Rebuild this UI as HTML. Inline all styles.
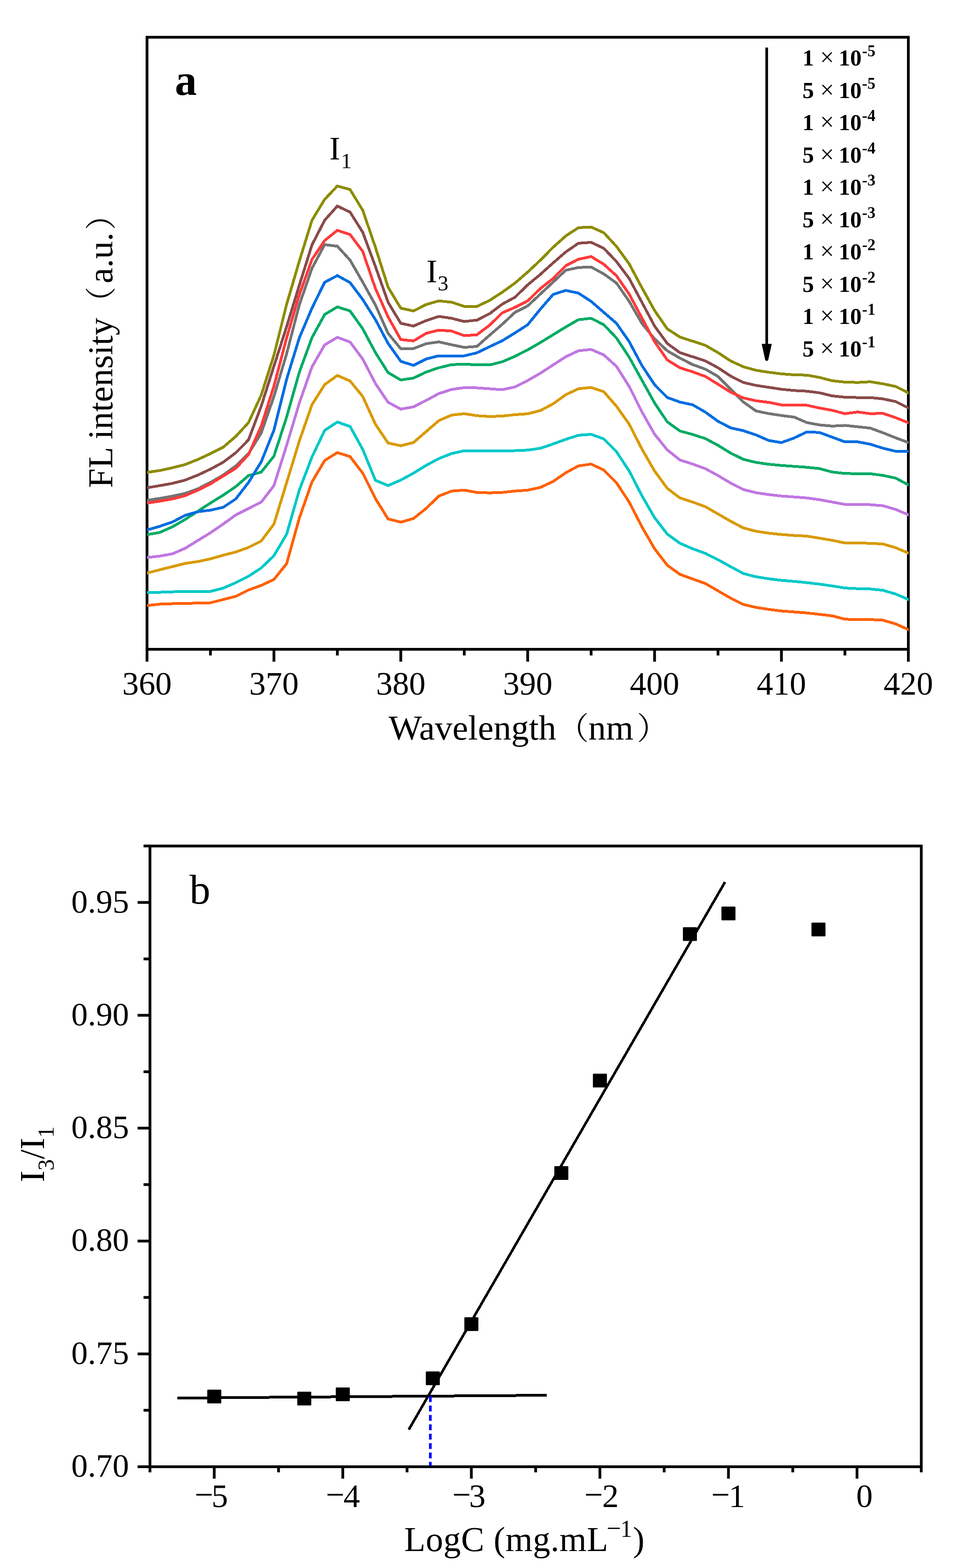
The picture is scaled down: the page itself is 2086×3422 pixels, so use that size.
<!DOCTYPE html>
<html><head><meta charset="utf-8"><title>Figure</title>
<style>html,body{margin:0;padding:0;background:#fff;width:2086px;height:3422px;overflow:hidden}</style>
</head><body>
<svg width="2086" height="3422" viewBox="0 0 2086 3422" style="display:block">
<rect width="2086" height="3422" fill="#fff"/>
<rect x="320.8" y="81.3" width="1661.2" height="1335.7" fill="none" stroke="#000" stroke-width="6"/>
<defs><clipPath id="ca"><rect x="320.8" y="81.3" width="1662.0" height="1335.7"/></clipPath></defs><g clip-path="url(#ca)">
<polyline points="316.8,1321.9 320.8,1321.5 348.5,1318.5 376.2,1317.5 403.9,1317.1 431.5,1316.1 459.2,1315.5 486.9,1308.5 514.6,1301.5 542.3,1287.6 570.0,1277.6 597.7,1264.6 625.4,1230.2 653.0,1131.3 680.7,1051.8 708.4,1005.0 736.1,987.7 763.8,996.4 791.5,1032.7 819.2,1088.1 846.8,1132.6 874.5,1139.6 902.2,1131.6 929.9,1109.6 957.6,1082.6 985.3,1071.7 1013.0,1069.7 1040.7,1074.7 1068.3,1075.7 1096.0,1074.7 1123.7,1071.7 1151.4,1069.7 1179.1,1063.8 1206.8,1050.8 1234.5,1031.8 1262.1,1016.8 1289.8,1012.8 1317.5,1025.8 1345.2,1053.8 1372.9,1095.7 1400.6,1149.6 1428.3,1197.6 1456.0,1233.5 1483.6,1253.5 1511.3,1263.5 1539.0,1273.5 1566.7,1289.5 1594.4,1305.4 1622.1,1319.2 1649.8,1325.6 1677.4,1329.9 1705.1,1333.4 1732.8,1335.5 1760.5,1337.7 1788.2,1340.8 1815.9,1344.0 1843.6,1351.3 1871.3,1352.1 1898.9,1352.1 1926.6,1353.5 1954.3,1361.6 1982.0,1374.0 1986.0,1375.8" fill="none" stroke="#ff6000" stroke-width="6" stroke-linejoin="miter" stroke-miterlimit="3" shape-rendering="crispEdges"/>
<polyline points="316.8,1292.6 320.8,1292.6 348.5,1292.6 376.2,1291.6 403.9,1290.6 431.5,1290.6 459.2,1290.6 486.9,1283.6 514.6,1271.6 542.3,1257.6 570.0,1239.6 597.7,1212.7 625.4,1166.0 653.0,1070.0 680.7,997.4 708.4,939.3 736.1,921.1 763.8,930.6 791.5,980.8 819.2,1048.3 846.8,1059.7 874.5,1047.7 902.2,1032.7 929.9,1015.7 957.6,1000.8 985.3,989.8 1013.0,983.8 1040.7,983.8 1068.3,983.9 1096.0,983.9 1123.7,983.5 1151.4,982.3 1179.1,978.3 1206.8,968.9 1234.5,958.9 1262.1,949.9 1289.8,947.9 1317.5,957.9 1345.2,985.9 1372.9,1027.8 1400.6,1081.7 1428.3,1129.7 1456.0,1165.6 1483.6,1185.6 1511.3,1197.6 1539.0,1207.6 1566.7,1221.5 1594.4,1236.8 1622.1,1251.7 1649.8,1258.8 1677.4,1263.1 1705.1,1266.6 1732.8,1268.8 1760.5,1271.6 1788.2,1274.8 1815.9,1278.8 1843.6,1283.2 1871.3,1284.7 1898.9,1285.4 1926.6,1288.3 1954.3,1296.4 1982.0,1308.1 1986.0,1309.8" fill="none" stroke="#00c8c8" stroke-width="6" stroke-linejoin="miter" stroke-miterlimit="3" shape-rendering="crispEdges"/>
<polyline points="316.8,1251.6 320.8,1250.6 348.5,1243.6 376.2,1236.6 403.9,1229.6 431.5,1225.6 459.2,1219.7 486.9,1211.7 514.6,1204.7 542.3,1194.7 570.0,1180.7 597.7,1143.8 625.4,1053.5 653.0,962.9 680.7,883.3 708.4,839.4 736.1,819.4 763.8,831.4 791.5,865.3 819.2,925.9 846.8,966.8 874.5,972.8 902.2,965.8 929.9,941.8 957.6,917.9 985.3,905.9 1013.0,902.9 1040.7,907.2 1068.3,909.0 1096.0,908.0 1123.7,905.0 1151.4,903.0 1179.1,896.0 1206.8,881.4 1234.5,861.4 1262.1,848.5 1289.8,845.5 1317.5,855.0 1345.2,886.7 1372.9,925.7 1400.6,979.9 1428.3,1027.8 1456.0,1065.8 1483.6,1086.7 1511.3,1095.7 1539.0,1105.7 1566.7,1121.7 1594.4,1137.6 1622.1,1152.2 1649.8,1159.4 1677.4,1163.6 1705.1,1166.5 1732.8,1168.6 1760.5,1170.0 1788.2,1174.5 1815.9,1179.2 1843.6,1185.0 1871.3,1185.0 1898.9,1185.7 1926.6,1187.2 1954.3,1195.3 1982.0,1207.0 1986.0,1208.7" fill="none" stroke="#d99a00" stroke-width="6" stroke-linejoin="miter" stroke-miterlimit="3" shape-rendering="crispEdges"/>
<polyline points="316.8,1217.1 320.8,1216.7 348.5,1213.7 376.2,1208.7 403.9,1196.7 431.5,1179.7 459.2,1162.7 486.9,1143.8 514.6,1123.8 542.3,1109.8 570.0,1095.8 597.7,1059.9 625.4,972.0 653.0,880.0 680.7,800.7 708.4,752.7 736.1,736.1 763.8,746.5 791.5,783.5 819.2,837.0 846.8,877.9 874.5,892.9 902.2,887.9 929.9,873.9 957.6,858.9 985.3,850.0 1013.0,846.0 1040.7,846.5 1068.3,848.5 1096.0,850.5 1123.7,844.5 1151.4,830.5 1179.1,814.5 1206.8,796.5 1234.5,778.6 1262.1,765.6 1289.8,762.6 1317.5,774.6 1345.2,799.6 1372.9,843.5 1400.6,898.7 1428.3,947.6 1456.0,981.9 1483.6,1003.8 1511.3,1012.8 1539.0,1022.8 1566.7,1037.8 1594.4,1054.3 1622.1,1068.4 1649.8,1075.3 1677.4,1079.4 1705.1,1082.5 1732.8,1084.6 1760.5,1086.7 1788.2,1090.5 1815.9,1095.7 1843.6,1100.8 1871.3,1100.8 1898.9,1101.5 1926.6,1103.7 1954.3,1111.8 1982.0,1123.5 1986.0,1125.2" fill="none" stroke="#c077e0" stroke-width="6" stroke-linejoin="miter" stroke-miterlimit="3" shape-rendering="crispEdges"/>
<polyline points="316.8,1167.4 320.8,1166.7 348.5,1162.1 376.2,1149.7 403.9,1133.8 431.5,1115.8 459.2,1097.8 486.9,1080.8 514.6,1061.9 542.3,1037.9 570.0,1030.3 597.7,995.6 625.4,910.3 653.0,812.7 680.7,737.0 708.4,686.4 736.1,669.8 763.8,678.6 791.5,717.5 819.2,769.5 846.8,813.2 874.5,829.2 902.2,825.2 929.9,811.9 957.6,802.6 985.3,795.9 1013.0,794.6 1040.7,796.4 1068.3,796.5 1096.0,789.5 1123.7,777.6 1151.4,763.6 1179.1,747.6 1206.8,730.6 1234.5,713.6 1262.1,697.7 1289.8,694.7 1317.5,708.7 1345.2,737.6 1372.9,779.6 1400.6,829.5 1428.3,879.5 1456.0,920.7 1483.6,940.6 1511.3,948.1 1539.0,957.1 1566.7,971.9 1594.4,988.9 1622.1,1002.5 1649.8,1009.2 1677.4,1013.2 1705.1,1015.8 1732.8,1017.8 1760.5,1019.8 1788.2,1022.7 1815.9,1030.2 1843.6,1033.2 1871.3,1033.9 1898.9,1033.9 1926.6,1037.5 1954.3,1043.4 1982.0,1058.1 1986.0,1060.2" fill="none" stroke="#00ab65" stroke-width="6" stroke-linejoin="miter" stroke-miterlimit="3" shape-rendering="crispEdges"/>
<polyline points="316.8,1157.9 320.8,1156.7 348.5,1148.7 376.2,1139.2 403.9,1124.8 431.5,1116.8 459.2,1113.4 486.9,1107.2 514.6,1088.8 542.3,1052.9 570.0,1007.9 597.7,939.0 625.4,827.7 653.0,737.6 680.7,672.6 708.4,616.0 736.1,601.5 763.8,616.7 791.5,653.6 819.2,697.6 846.8,749.5 874.5,788.5 902.2,797.4 929.9,783.5 957.6,776.5 985.3,776.5 1013.0,776.5 1040.7,770.0 1068.3,756.6 1096.0,743.6 1123.7,726.6 1151.4,708.7 1179.1,674.7 1206.8,642.7 1234.5,633.8 1262.1,639.7 1289.8,657.7 1317.5,681.7 1345.2,705.7 1372.9,745.6 1400.6,797.6 1428.3,839.5 1456.0,867.5 1483.6,877.5 1511.3,883.4 1539.0,899.4 1566.7,919.4 1594.4,933.8 1622.1,939.9 1649.8,949.3 1677.4,961.3 1705.1,965.9 1732.8,955.9 1760.5,942.6 1788.2,943.9 1815.9,954.1 1843.6,964.3 1871.3,964.3 1898.9,969.4 1926.6,978.2 1954.3,984.8 1982.0,984.8 1986.0,984.8" fill="none" stroke="#006de0" stroke-width="6" stroke-linejoin="miter" stroke-miterlimit="3" shape-rendering="crispEdges"/>
<polyline points="316.8,1092.4 320.8,1091.8 348.5,1087.8 376.2,1082.8 403.9,1076.8 431.5,1066.9 459.2,1052.9 486.9,1036.9 514.6,1016.9 542.3,990.0 570.0,944.9 597.7,865.3 625.4,772.2 653.0,665.7 680.7,585.6 708.4,533.9 736.1,537.3 763.8,567.7 791.5,615.7 819.2,665.6 846.8,727.5 874.5,761.1 902.2,760.7 929.9,750.1 957.6,746.1 985.3,752.4 1013.0,758.1 1040.7,756.0 1068.3,731.6 1096.0,707.7 1123.7,681.7 1151.4,667.7 1179.1,641.7 1206.8,615.8 1234.5,589.8 1262.1,583.8 1289.8,582.8 1317.5,597.8 1345.2,617.8 1372.9,657.7 1400.6,705.7 1428.3,739.6 1456.0,765.6 1483.6,781.6 1511.3,795.6 1539.0,805.6 1566.7,821.5 1594.4,849.5 1622.1,877.4 1649.8,897.0 1677.4,902.6 1705.1,906.8 1732.8,910.3 1760.5,922.2 1788.2,927.4 1815.9,929.9 1843.6,928.4 1871.3,931.4 1898.9,934.3 1926.6,944.5 1954.3,955.5 1982.0,965.8 1986.0,967.3" fill="none" stroke="#737373" stroke-width="6" stroke-linejoin="miter" stroke-miterlimit="3" shape-rendering="crispEdges"/>
<polyline points="316.8,1098.4 320.8,1097.8 348.5,1093.8 376.2,1088.8 403.9,1081.8 431.5,1069.9 459.2,1055.9 486.9,1038.9 514.6,1021.9 542.3,992.0 570.0,929.8 597.7,842.7 625.4,737.5 653.0,643.6 680.7,566.3 708.4,524.9 736.1,502.8 763.8,511.8 791.5,548.8 819.2,629.7 846.8,691.6 874.5,741.0 902.2,744.0 929.9,727.5 957.6,720.5 985.3,722.5 1013.0,732.5 1040.7,730.6 1068.3,709.7 1096.0,682.7 1123.7,670.7 1151.4,656.7 1179.1,629.8 1206.8,607.8 1234.5,579.8 1262.1,565.8 1289.8,559.9 1317.5,576.8 1345.2,601.8 1372.9,641.8 1400.6,693.7 1428.3,745.6 1456.0,785.6 1483.6,802.6 1511.3,811.5 1539.0,821.5 1566.7,838.5 1594.4,856.0 1622.1,868.4 1649.8,874.7 1677.4,878.1 1705.1,883.7 1732.8,884.4 1760.5,884.4 1788.2,890.5 1815.9,895.5 1843.6,902.8 1871.3,899.1 1898.9,902.8 1926.6,902.1 1954.3,911.6 1982.0,922.6 1986.0,924.2" fill="none" stroke="#ff3a3a" stroke-width="6" stroke-linejoin="miter" stroke-miterlimit="3" shape-rendering="crispEdges"/>
<polyline points="316.8,1065.2 320.8,1064.5 348.5,1059.9 376.2,1054.9 403.9,1047.9 431.5,1036.9 459.2,1023.9 486.9,1008.9 514.6,988.0 542.3,959.9 570.0,886.3 597.7,799.2 625.4,713.0 653.0,622.9 680.7,534.6 708.4,480.7 736.1,449.7 763.8,462.9 791.5,506.8 819.2,581.7 846.8,659.6 874.5,705.6 902.2,711.6 929.9,699.6 957.6,690.6 985.3,694.6 1013.0,701.6 1040.7,698.6 1068.3,684.7 1096.0,663.7 1123.7,648.7 1151.4,621.8 1179.1,598.8 1206.8,573.8 1234.5,549.9 1262.1,530.9 1289.8,528.9 1317.5,541.9 1345.2,570.9 1372.9,607.8 1400.6,659.7 1428.3,711.7 1456.0,749.6 1483.6,769.6 1511.3,778.6 1539.0,787.6 1566.7,802.6 1594.4,820.8 1622.1,834.8 1649.8,841.1 1677.4,845.3 1705.1,849.5 1732.8,852.3 1760.5,853.7 1788.2,857.3 1815.9,864.0 1843.6,866.9 1871.3,867.6 1898.9,867.6 1926.6,870.6 1954.3,876.4 1982.0,890.3 1986.0,892.3" fill="none" stroke="#8a4a4a" stroke-width="6" stroke-linejoin="miter" stroke-miterlimit="3" shape-rendering="crispEdges"/>
<polyline points="316.8,1031.5 320.8,1030.9 348.5,1026.9 376.2,1020.9 403.9,1013.9 431.5,1002.9 459.2,990.0 486.9,976.0 514.6,952.4 542.3,922.3 570.0,862.3 597.7,775.2 625.4,664.3 653.0,570.4 680.7,480.7 708.4,435.2 736.1,406.0 763.8,413.6 791.5,458.9 819.2,539.8 846.8,626.7 874.5,672.6 902.2,678.6 929.9,664.6 957.6,656.6 985.3,659.6 1013.0,668.6 1040.7,668.7 1068.3,655.7 1096.0,637.7 1123.7,617.8 1151.4,593.8 1179.1,567.8 1206.8,539.9 1234.5,514.9 1262.1,496.9 1289.8,495.5 1317.5,507.9 1345.2,537.9 1372.9,575.9 1400.6,627.8 1428.3,677.7 1456.0,717.7 1483.6,735.6 1511.3,744.6 1539.0,753.6 1566.7,769.6 1594.4,787.8 1622.1,800.5 1649.8,808.2 1677.4,812.4 1705.1,815.9 1732.8,818.0 1760.5,818.7 1788.2,823.7 1815.9,831.0 1843.6,833.9 1871.3,834.7 1898.9,833.2 1926.6,837.6 1954.3,843.5 1982.0,857.4 1986.0,859.4" fill="none" stroke="#8c8c00" stroke-width="6" stroke-linejoin="miter" stroke-miterlimit="3" shape-rendering="crispEdges"/>
</g>
<path d="M320.8,1417.0V1444.0M459.2,1417.0V1430.6M597.7,1417.0V1444.0M736.1,1417.0V1430.6M874.5,1417.0V1444.0M1013.0,1417.0V1430.6M1151.4,1417.0V1444.0M1289.8,1417.0V1430.6M1428.3,1417.0V1444.0M1566.7,1417.0V1430.6M1705.1,1417.0V1444.0M1843.6,1417.0V1430.6M1982.0,1417.0V1444.0" stroke="#000" stroke-width="6" fill="none"/>
<text x="320.8" y="1516" font-family="'Liberation Serif','Times New Roman',serif" font-size="72" text-anchor="middle">360</text>
<text x="597.7" y="1516" font-family="'Liberation Serif','Times New Roman',serif" font-size="72" text-anchor="middle">370</text>
<text x="874.5" y="1516" font-family="'Liberation Serif','Times New Roman',serif" font-size="72" text-anchor="middle">380</text>
<text x="1151.4" y="1516" font-family="'Liberation Serif','Times New Roman',serif" font-size="72" text-anchor="middle">390</text>
<text x="1428.3" y="1516" font-family="'Liberation Serif','Times New Roman',serif" font-size="72" text-anchor="middle">400</text>
<text x="1705.1" y="1516" font-family="'Liberation Serif','Times New Roman',serif" font-size="72" text-anchor="middle">410</text>
<text x="1982.0" y="1516" font-family="'Liberation Serif','Times New Roman',serif" font-size="72" text-anchor="middle">420</text>
<text x="848" y="1614.4" font-family="'Liberation Serif','Noto Serif CJK SC','Noto Sans CJK SC',serif" font-size="77">Wavelength<tspan dx="3" font-size="68">（</tspan><tspan dx="-1">nm</tspan><tspan dx="7.5" font-size="68">）</tspan></text>
<text transform="translate(244.5,1065) rotate(-90)" font-family="'Liberation Serif','Noto Serif CJK SC','Noto Sans CJK SC',serif" font-size="77">FL intensity<tspan font-size="68">（</tspan><tspan dx="7">a.u.</tspan><tspan dx="5" font-size="68">）</tspan></text>
<text x="381.6" y="207" font-family="'Liberation Serif','Times New Roman',serif" font-size="96" font-weight="bold">a</text>
<text x="718.6" y="347.9" font-family="'Liberation Serif','Times New Roman',serif" font-size="72">I</text><text x="744" y="367.3" font-family="'Liberation Serif','Times New Roman',serif" font-size="47">1</text>
<text x="930.3" y="615.5" font-family="'Liberation Serif','Times New Roman',serif" font-size="72">I</text><text x="955" y="633.5" font-family="'Liberation Serif','Times New Roman',serif" font-size="47">3</text>
<text y="143.0" font-family="'Liberation Serif','Times New Roman',serif" font-weight="bold" font-size="50"><tspan x="1751">1</tspan><tspan x="1789.6" font-weight="normal" font-size="54">×</tspan><tspan x="1830.1">10</tspan><tspan x="1881" y="123.0" font-size="35">-5</tspan></text>
<text y="213.5" font-family="'Liberation Serif','Times New Roman',serif" font-weight="bold" font-size="50"><tspan x="1751">5</tspan><tspan x="1789.6" font-weight="normal" font-size="54">×</tspan><tspan x="1830.1">10</tspan><tspan x="1881" y="193.5" font-size="35">-5</tspan></text>
<text y="284.0" font-family="'Liberation Serif','Times New Roman',serif" font-weight="bold" font-size="50"><tspan x="1751">1</tspan><tspan x="1789.6" font-weight="normal" font-size="54">×</tspan><tspan x="1830.1">10</tspan><tspan x="1881" y="264.0" font-size="35">-4</tspan></text>
<text y="354.5" font-family="'Liberation Serif','Times New Roman',serif" font-weight="bold" font-size="50"><tspan x="1751">5</tspan><tspan x="1789.6" font-weight="normal" font-size="54">×</tspan><tspan x="1830.1">10</tspan><tspan x="1881" y="334.5" font-size="35">-4</tspan></text>
<text y="425.0" font-family="'Liberation Serif','Times New Roman',serif" font-weight="bold" font-size="50"><tspan x="1751">1</tspan><tspan x="1789.6" font-weight="normal" font-size="54">×</tspan><tspan x="1830.1">10</tspan><tspan x="1881" y="405.0" font-size="35">-3</tspan></text>
<text y="495.5" font-family="'Liberation Serif','Times New Roman',serif" font-weight="bold" font-size="50"><tspan x="1751">5</tspan><tspan x="1789.6" font-weight="normal" font-size="54">×</tspan><tspan x="1830.1">10</tspan><tspan x="1881" y="475.5" font-size="35">-3</tspan></text>
<text y="566.0" font-family="'Liberation Serif','Times New Roman',serif" font-weight="bold" font-size="50"><tspan x="1751">1</tspan><tspan x="1789.6" font-weight="normal" font-size="54">×</tspan><tspan x="1830.1">10</tspan><tspan x="1881" y="546.0" font-size="35">-2</tspan></text>
<text y="636.5" font-family="'Liberation Serif','Times New Roman',serif" font-weight="bold" font-size="50"><tspan x="1751">5</tspan><tspan x="1789.6" font-weight="normal" font-size="54">×</tspan><tspan x="1830.1">10</tspan><tspan x="1881" y="616.5" font-size="35">-2</tspan></text>
<text y="707.0" font-family="'Liberation Serif','Times New Roman',serif" font-weight="bold" font-size="50"><tspan x="1751">1</tspan><tspan x="1789.6" font-weight="normal" font-size="54">×</tspan><tspan x="1830.1">10</tspan><tspan x="1881" y="687.0" font-size="35">-1</tspan></text>
<text y="777.5" font-family="'Liberation Serif','Times New Roman',serif" font-weight="bold" font-size="50"><tspan x="1751">5</tspan><tspan x="1789.6" font-weight="normal" font-size="54">×</tspan><tspan x="1830.1">10</tspan><tspan x="1881" y="757.5" font-size="35">-1</tspan></text>
<path d="M1673,103.7V760" stroke="#000" stroke-width="5.8" fill="none"/>
<path d="M1662,750.5 L1684,750.5 L1676.2,786 Q1673,789.5 1669.8,786 Z" fill="#000"/>
<rect x="327.25" y="1846.35" width="1683.0" height="1354.65" fill="none" stroke="#000" stroke-width="6"/>
<path d="M327.2,3201.0V3213.3M467.5,3201.0V3227.0M607.8,3201.0V3213.3M748.0,3201.0V3227.0M888.2,3201.0V3213.3M1028.5,3201.0V3227.0M1168.8,3201.0V3213.3M1309.0,3201.0V3227.0M1449.2,3201.0V3213.3M1589.5,3201.0V3227.0M1729.8,3201.0V3213.3M1870.0,3201.0V3227.0M2010.2,3201.0V3213.3M327.25,3201.0H300.25M327.25,3077.8H313.25M327.25,2954.7H300.25M327.25,2831.6H313.25M327.25,2708.4H300.25M327.25,2585.2H313.25M327.25,2462.1H300.25M327.25,2338.9H313.25M327.25,2215.8H300.25M327.25,2092.7H313.25M327.25,1969.5H300.25M327.25,1846.3H313.25" stroke="#000" stroke-width="6" fill="none"/>
<text x="281.4" y="3223.0" font-family="'Liberation Serif','Times New Roman',serif" font-size="72" text-anchor="end">0.70</text>
<text x="281.4" y="2976.7" font-family="'Liberation Serif','Times New Roman',serif" font-size="72" text-anchor="end">0.75</text>
<text x="281.4" y="2730.4" font-family="'Liberation Serif','Times New Roman',serif" font-size="72" text-anchor="end">0.80</text>
<text x="281.4" y="2484.1" font-family="'Liberation Serif','Times New Roman',serif" font-size="72" text-anchor="end">0.85</text>
<text x="281.4" y="2237.8" font-family="'Liberation Serif','Times New Roman',serif" font-size="72" text-anchor="end">0.90</text>
<text x="281.4" y="1991.5" font-family="'Liberation Serif','Times New Roman',serif" font-size="72" text-anchor="end">0.95</text>
<text y="3288.5" font-family="'Liberation Serif','Times New Roman',serif" font-size="72"><tspan x="424.85" y="3286">−</tspan><tspan x="461.4" y="3288.5">5</tspan></text>
<text y="3288.5" font-family="'Liberation Serif','Times New Roman',serif" font-size="72"><tspan x="710.95" y="3286">−</tspan><tspan x="749.5" y="3288.5">4</tspan></text>
<text y="3288.5" font-family="'Liberation Serif','Times New Roman',serif" font-size="72"><tspan x="986.95" y="3286">−</tspan><tspan x="1023.4" y="3288.5">3</tspan></text>
<text y="3288.5" font-family="'Liberation Serif','Times New Roman',serif" font-size="72"><tspan x="1274.95" y="3286">−</tspan><tspan x="1313.9" y="3288.5">2</tspan></text>
<text y="3288.5" font-family="'Liberation Serif','Times New Roman',serif" font-size="72"><tspan x="1551.95" y="3286">−</tspan><tspan x="1589.9" y="3288.5">1</tspan></text>
<text x="1868.3" y="3288.5" font-family="'Liberation Serif','Times New Roman',serif" font-size="72">0</text>
<text x="881.9" y="3384.5" font-family="'Liberation Serif','Times New Roman',serif" font-size="76" letter-spacing="0.6">LogC (mg.mL</text>
<text y="3353.5" font-family="'Liberation Serif','Times New Roman',serif" font-size="52"><tspan x="1323.5" font-size="56">−</tspan><tspan x="1353.5">1</tspan></text>
<text x="1381" y="3384.5" font-family="'Liberation Serif','Times New Roman',serif" font-size="76">)</text>
<text transform="translate(95.7,2580) rotate(-90)" font-family="'Liberation Serif','Times New Roman',serif" font-size="76">I<tspan dy="21.6" font-size="50">3</tspan><tspan dy="-21.6">/I</tspan><tspan dy="21.6" font-size="50">1</tspan></text>
<text x="413.6" y="1971.5" font-family="'Liberation Serif','Times New Roman',serif" font-size="91">b</text>
<path d="M387,3051 L1193,3045" stroke="#000" stroke-width="6" fill="none" shape-rendering="crispEdges"/>
<path d="M892,3120 L1582,1925" stroke="#000" stroke-width="5.6" fill="none" shape-rendering="crispEdges"/>
<path d="M939,3047 V3199" stroke="#0000ff" stroke-width="5.8" stroke-dasharray="12.8 7.7" fill="none"/>
<rect x="452.2" y="3032.8" width="30.6" height="30" rx="1.5" fill="#000"/>
<rect x="648.6" y="3037.2" width="30.6" height="30" rx="1.5" fill="#000"/>
<rect x="732.7" y="3027.9" width="30.6" height="30" rx="1.5" fill="#000"/>
<rect x="929.1" y="2992.9" width="30.6" height="30" rx="1.5" fill="#000"/>
<rect x="1013.2" y="2874.7" width="30.6" height="30" rx="1.5" fill="#000"/>
<rect x="1209.5" y="2545.1" width="30.6" height="30" rx="1.5" fill="#000"/>
<rect x="1293.7" y="2343.2" width="30.6" height="30" rx="1.5" fill="#000"/>
<rect x="1490.1" y="2023.5" width="30.6" height="30" rx="1.5" fill="#000"/>
<rect x="1574.2" y="1978.6" width="30.6" height="30" rx="1.5" fill="#000"/>
<rect x="1770.6" y="2013.6" width="30.6" height="30" rx="1.5" fill="#000"/>
</svg>
</body></html>
